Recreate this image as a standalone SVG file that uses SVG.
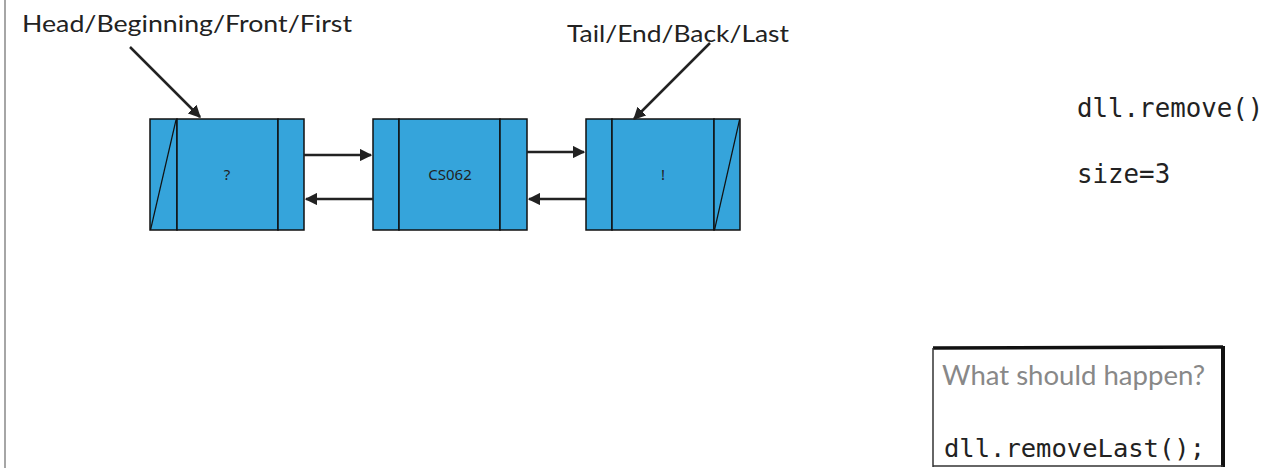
<svg xmlns="http://www.w3.org/2000/svg" width="1271" height="468" viewBox="0 0 1271 468">
  <style>
    .cell { fill: #35a4db; stroke: #111; stroke-width: 1.5; }
    .lbl { font-family: Lato, "Noto Sans", sans-serif; fill: #222; }
    .node-text { font-family: "Noto Sans", "DejaVu Sans", sans-serif; font-size: 15px; fill: #222; text-anchor: middle; }
    .code { font-family: "DejaVu Sans Mono", monospace; fill: #222; }
    .conn { stroke: #222; stroke-width: 2.5; fill: none; }
  </style>
  <defs>
    <marker id="arrow" viewBox="0 0 10 10" refX="9" refY="5" markerWidth="5" markerHeight="5" orient="auto" markerUnits="strokeWidth">
      <path d="M0,0 L10,5 L0,10 Z" fill="#222"/>
    </marker>
  </defs>

  <rect width="1271" height="468" fill="#fff"/>
  <line x1="5" y1="0" x2="5" y2="468" stroke="#888" stroke-width="1.5"/>

  <text class="lbl" x="22" y="32" font-size="24" textLength="330" lengthAdjust="spacingAndGlyphs">Head/Beginning/Front/First</text>
  <text class="lbl" x="567" y="42" font-size="24" textLength="222" lengthAdjust="spacingAndGlyphs">Tail/End/Back/Last</text>

  <g id="node-1">
    <rect class="cell" x="150" y="119" width="27" height="111"/>
    <rect class="cell" x="177" y="119" width="101" height="111"/>
    <rect class="cell" x="278" y="119" width="26" height="111"/>
    <line x1="150.5" y1="230" x2="176" y2="120" stroke="#111" stroke-width="1.2"/>
    <text class="node-text" x="227" y="180">?</text>
  </g>

  <g id="node-2">
    <rect class="cell" x="373" y="119" width="26" height="111"/>
    <rect class="cell" x="399" y="119" width="101" height="111"/>
    <rect class="cell" x="500" y="119" width="27" height="111"/>
    <text class="node-text" x="450" y="180">CS062</text>
  </g>

  <g id="node-3">
    <rect class="cell" x="586" y="119" width="26" height="111"/>
    <rect class="cell" x="612" y="119" width="102" height="111"/>
    <rect class="cell" x="714" y="119" width="26" height="111"/>
    <line x1="714.5" y1="230" x2="739.5" y2="120" stroke="#111" stroke-width="1.2"/>
    <text class="node-text" x="663" y="180">!</text>
  </g>

  <g id="connectors">
    <line class="conn" x1="304" y1="155" x2="371" y2="155" marker-end="url(#arrow)"/>
    <line class="conn" x1="373" y1="199" x2="306" y2="199" marker-end="url(#arrow)"/>
    <line class="conn" x1="527" y1="152" x2="584" y2="152" marker-end="url(#arrow)"/>
    <line class="conn" x1="586" y1="199" x2="529" y2="199" marker-end="url(#arrow)"/>
    <line class="conn" x1="130" y1="47" x2="200" y2="117" marker-end="url(#arrow)"/>
    <line class="conn" x1="710" y1="43" x2="634" y2="119" marker-end="url(#arrow)"/>
  </g>

  <text class="code" x="1077" y="117" font-size="25.8">dll.remove()</text>
  <text class="code" x="1077" y="183" font-size="25.8">size=3</text>

  <g id="callout">
    <rect x="933" y="348" width="290" height="118" fill="#fff" stroke="none"/>
    <path d="M933,348 L1223,347" stroke="#111" stroke-width="3.5" fill="none"/>
    <path d="M1223,346 L1223,467" stroke="#111" stroke-width="4" fill="none"/>
    <path d="M933,348 L933,467" stroke="#333" stroke-width="1.5" fill="none"/>
    <path d="M933,466 L1223,466" stroke="#333" stroke-width="1.5" fill="none"/>
    <text x="942" y="385" font-family="Lato, 'Noto Sans', sans-serif" font-size="26" fill="#888" textLength="263" lengthAdjust="spacingAndGlyphs">What should happen?</text>
    <text class="code" x="944" y="457" font-size="25.5">dll.removeLast();</text>
  </g>
</svg>
